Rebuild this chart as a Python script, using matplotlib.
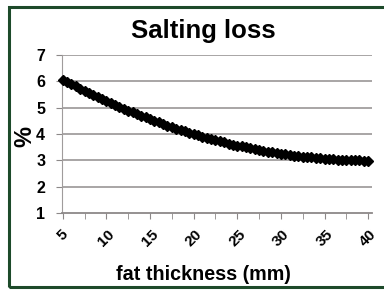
import matplotlib.pyplot as plt
from matplotlib.patches import Rectangle

plt.rcParams['font.family'] = ['Liberation Sans', 'DejaVu Sans']

fat_mm = [5, 5.5, 6, 6.5, 7, 7.5, 8, 8.5, 9, 9.5,
          10, 10.5, 11, 11.5, 12, 12.5, 13, 13.5, 14, 14.5,
          15, 15.5, 16, 16.5, 17, 17.5, 18, 18.5, 19, 19.5,
          20, 20.5, 21, 21.5, 22, 22.5, 23, 23.5, 24, 24.5,
          25, 25.5, 26, 26.5, 27, 27.5, 28, 28.5, 29, 29.5,
          30, 30.5, 31, 31.5, 32, 32.5, 33, 33.5, 34, 34.5,
          35, 35.5, 36, 36.5, 37, 37.5, 38, 38.5, 39, 39.5, 40]
loss = [6.06, 5.98, 5.89, 5.81, 5.72, 5.64, 5.56, 5.48, 5.40, 5.33,
        5.25, 5.18, 5.10, 5.03, 4.96, 4.89, 4.82, 4.76, 4.69, 4.63,
        4.56, 4.50, 4.44, 4.38, 4.32, 4.27, 4.21, 4.16, 4.10, 4.05,
        4.00, 3.95, 3.90, 3.86, 3.81, 3.77, 3.72, 3.68, 3.64, 3.60,
        3.56, 3.53, 3.49, 3.46, 3.42, 3.39, 3.36, 3.33, 3.30, 3.28,
        3.25, 3.23, 3.20, 3.18, 3.16, 3.14, 3.12, 3.11, 3.09, 3.08,
        3.06, 3.05, 3.04, 3.03, 3.02, 3.02, 3.01, 3.01, 3.00, 2.99, 2.98]

x_labels = [5, 10, 15, 20, 25, 30, 35, 40]
x_minor = [7.5, 12.5, 17.5, 22.5, 27.5, 32.5, 37.5]
y_ticks = [1, 2, 3, 4, 5, 6, 7]

fig = plt.figure(figsize=(3.84, 2.90), dpi=100)
ax = fig.add_axes([0.161, 0.2655, 0.808, 0.5445])

for y in y_ticks[1:]:
    ax.axhline(y, color='#9a9696', lw=1.2, zorder=1)

ax.plot(fat_mm, loss, color='black', lw=3.5, marker='D', markersize=5.5,
        zorder=3, clip_on=False)

ax.set_xlim(4.9, 40.45)
ax.set_ylim(1, 7)
ax.set_xticks(x_labels)
ax.set_xticks(x_minor, minor=True)
ax.set_yticks(y_ticks)
ax.set_xticklabels([str(v) for v in x_labels], rotation=45, ha='center',
                   fontsize=11, fontweight='bold')
ax.set_yticklabels([str(v) for v in y_ticks], fontsize=11.5, fontweight='bold')

ax.tick_params(axis='x', which='both', direction='out', length=4,
               color='#8c8888', pad=6)
ax.tick_params(axis='y', direction='out', length=4, color='#8c8888', pad=8)

for s in ['top', 'right']:
    ax.spines[s].set_visible(False)
ax.spines['left'].set_color('#a09c9c')
ax.spines['bottom'].set_color('#8c8888')
ax.spines['bottom'].set_linewidth(1.3)

fig.text(0.529, 0.893, 'Salting loss', ha='center', va='center',
         fontsize=18.5, fontweight='bold')
fig.text(0.53, 0.055, 'fat thickness (mm)', ha='center', va='center',
         fontsize=14.2, fontweight='bold')
fig.text(0.065, 0.528, '%', ha='center', va='center', rotation=90,
         fontsize=17, fontweight='bold')

fig.patches.append(Rectangle((8.5 / 384, 1 - 286.5 / 290), 1.1, 280 / 290,
                             transform=fig.transFigure, fill=False,
                             edgecolor='#1d4a2a', lw=2.2))

fig.savefig('out.png', dpi=100)
